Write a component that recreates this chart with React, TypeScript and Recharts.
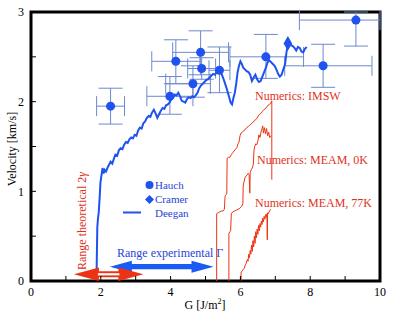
import React from 'react';
import { ComposedChart, Line, Scatter, XAxis, YAxis, ErrorBar, ReferenceArea, ReferenceLine } from 'recharts';

// Hauch measurements: G [J/m2], velocity [km/s], error bars [low, high]
const hauchG = [2.28, 3.98, 4.15, 4.64, 4.86, 4.89, 5.40, 6.73, 8.37, 9.31];
const hauchV = [1.95, 2.06, 2.45, 2.20, 2.55, 2.37, 2.35, 2.50, 2.40, 2.91];
const hauchGErr = [[0.4, 0.4], [0.66, 0.66], [0.69, 0.69], [0.78, 0.5], [0.8, 0.8], [0.4, 0.4], [0.3, 0.3], [1.03, 1.08], [1.1, 1.4], [1.62, 0.69]];
const hauchVErr = [[0.2, 0.2], [0.2, 0.22], [0.25, 0.24], [0.15, 0.2], [0.25, 0.24], [0.12, 0.12], [0.25, 0.26], [0.24, 0.25], [0.24, 0.24], [0.29, 0.09]];

const cramerG = [7.36];
const cramerV = [2.65];

const deeganG = [
  1.88, 1.89, 1.90, 1.92, 1.94, 1.97, 1.99, 2.02, 2.05, 2.08,
  2.11, 2.15, 2.20, 2.24, 2.28, 2.33, 2.38, 2.42, 2.47, 2.52,
  2.57, 2.62, 2.67, 2.72, 2.77, 2.82, 2.87, 2.92, 2.97, 3.02,
  3.07, 3.12, 3.17, 3.22, 3.27, 3.32, 3.37, 3.42, 3.47, 3.52,
  3.57, 3.62, 3.67, 3.72, 3.77, 3.82, 3.87, 3.92, 3.97, 4.02,
  4.07, 4.12, 4.17, 4.22, 4.27, 4.32, 4.37, 4.42, 4.47, 4.52,
  4.57, 4.62, 4.67, 4.72, 4.77, 4.82, 4.87, 4.92, 4.97, 5.02,
  5.07, 5.12, 5.17, 5.22, 5.27, 5.32, 5.37, 5.42, 5.47, 5.52,
  5.57, 5.62, 5.67, 5.72, 5.76, 5.80, 5.84, 5.88, 5.92, 5.96,
  6.00, 6.04, 6.08, 6.13, 6.18, 6.23, 6.28, 6.33, 6.38, 6.43,
  6.48, 6.53, 6.58, 6.63, 6.68, 6.73, 6.78, 6.83, 6.88, 6.93,
  6.98, 7.03, 7.08, 7.13, 7.18, 7.23, 7.28, 7.32, 7.36, 7.40,
  7.45, 7.50, 7.55, 7.60, 7.65, 7.70, 7.75, 7.80, 7.85, 7.90,
];
const deeganV = [
  0.12, 0.35, 0.60, 0.70, 0.76, 0.95, 1.10, 1.18, 1.26, 1.20,
  1.24, 1.22, 1.27, 1.30, 1.33, 1.31, 1.37, 1.41, 1.40, 1.46,
  1.48, 1.47, 1.52, 1.55, 1.54, 1.58, 1.60, 1.59, 1.63, 1.62,
  1.68, 1.71, 1.70, 1.76, 1.78, 1.82, 1.84, 1.83, 1.88, 1.91,
  1.87, 1.82, 1.86, 1.90, 1.93, 1.92, 1.96, 1.97, 1.99, 2.03,
  2.04, 2.08, 2.07, 2.10, 2.06, 2.01, 2.00, 1.99, 2.03, 2.05,
  2.04, 2.06, 2.05, 2.07, 2.10, 2.15, 2.18, 2.20, 2.22, 2.24,
  2.25, 2.27, 2.29, 2.31, 2.30, 2.33, 2.35, 2.33, 2.30, 2.25,
  2.19, 2.13, 2.06, 1.99, 1.97, 2.04, 2.10, 2.20, 2.33, 2.40,
  2.45, 2.42, 2.38, 2.36, 2.34, 2.33, 2.30, 2.23, 2.27, 2.30,
  2.25, 2.22, 2.23, 2.28, 2.33, 2.38, 2.44, 2.46, 2.44, 2.42,
  2.40, 2.36, 2.31, 2.28, 2.30, 2.36, 2.42, 2.55, 2.64, 2.65,
  2.63, 2.62, 2.60, 2.57, 2.61, 2.60, 2.56, 2.55, 2.59, 2.61,
];

const imswG = [5.32, 5.32, 5.36, 5.40, 5.45, 5.50, 5.54, 5.56, 5.58, 5.61, 5.62, 5.66, 5.70, 5.74, 5.78, 5.82, 5.86, 5.90, 5.93, 5.96, 5.99, 6.02, 6.06, 6.10, 6.14, 6.18, 6.22, 6.27, 6.31, 6.35, 6.39, 6.43, 6.47, 6.51, 6.55, 6.59, 6.63, 6.67, 6.71, 6.75, 6.79, 6.83, 6.87, 6.90, 6.90];
const imswV = [0, 0.75, 0.76, 0.77, 0.78, 0.78, 0.80, 0.94, 0.96, 0.97, 1.37, 1.38, 1.38, 1.41, 1.43, 1.45, 1.47, 1.49, 1.53, 1.55, 1.62, 1.65, 1.66, 1.68, 1.69, 1.71, 1.72, 1.74, 1.75, 1.77, 1.78, 1.80, 1.81, 1.84, 1.86, 1.87, 1.89, 1.91, 1.92, 1.94, 1.96, 1.97, 1.98, 2.01, 1.13];

const meam0G = [5.67, 5.67, 5.70, 5.72, 5.74, 5.78, 5.83, 5.88, 5.93, 5.98, 6.03, 6.07, 6.08, 6.10, 6.13, 6.16, 6.19, 6.22, 6.25, 6.27, 6.28, 6.31, 6.34, 6.37, 6.39, 6.41, 6.44, 6.47, 6.50, 6.53, 6.56, 6.59, 6.62, 6.64, 6.66, 6.69, 6.72, 6.75, 6.78, 6.81, 6.84, 6.87];
const meam0V = [0, 0.53, 0.55, 0.56, 0.75, 0.77, 0.78, 0.79, 0.80, 0.81, 0.83, 0.86, 1.06, 1.10, 1.15, 1.17, 1.18, 1.20, 1.19, 0.98, 1.21, 1.24, 1.26, 1.30, 1.46, 1.50, 1.53, 1.52, 1.56, 1.63, 1.60, 1.66, 1.70, 1.73, 1.65, 1.71, 1.64, 1.70, 1.62, 1.66, 1.60, 1.62];

const meam77G = [6.02, 6.02, 6.05, 6.08, 6.11, 6.14, 6.17, 6.20, 6.22, 6.24, 6.26, 6.28, 6.30, 6.32, 6.34, 6.36, 6.38, 6.40, 6.42, 6.44, 6.46, 6.48, 6.50, 6.52, 6.54, 6.56, 6.58, 6.60, 6.62, 6.64, 6.66, 6.68, 6.70, 6.72, 6.74, 6.76, 6.77, 6.78, 6.80, 6.82, 6.84, 6.86];
const meam77V = [0, 0.10, 0.11, 0.13, 0.14, 0.18, 0.20, 0.24, 0.22, 0.30, 0.26, 0.34, 0.30, 0.40, 0.33, 0.45, 0.38, 0.50, 0.42, 0.55, 0.48, 0.58, 0.52, 0.62, 0.56, 0.64, 0.60, 0.67, 0.63, 0.70, 0.66, 0.72, 0.69, 0.74, 0.71, 0.75, 0.46, 0.76, 0.75, 0.77, 0.78, 0.80];

// ranges shown as double arrows: [from, to] in G, at a velocity level
const rangeTheory = [1.23, 3.22];
const rangeTheoryV = 0.075;
const rangeExp = [2.26, 5.23];
const rangeExpV = 0.16;

const xTicks = [0, 1, 2, 3, 4, 5, 6, 7, 8, 9, 10];
const yTicks = [0, 0.5, 1, 1.5, 2, 2.5, 3];

const toPts = (g: number[], v: number[]) => g.map((x, i) => ({ x, y: v[i] }));
const hauch = hauchG.map((x, i) => ({ x, y: hauchV[i], ex: hauchGErr[i], ey: hauchVErr[i] }));
const cramer = toPts(cramerG, cramerV);
const deegan = toPts(deeganG, deeganV);
const imsw = toPts(imswG, imswV);
const meam0 = toPts(meam0G, meam0V);
const meam77 = toPts(meam77G, meam77V);

const FONT = '"Liberation Serif", "Times New Roman", serif';
const BLUE = '#1f52ee';
const RED = '#ee3314';
const ERR = '#6d88cf';

const doubleArrow = (color: string, headL: number, headH: number, shaftH: number, inner: number) => (p: any) => {
  const a = Math.min(p.x1, p.x2);
  const b = Math.max(p.x1, p.x2);
  const y = p.y1;
  const pts = [
    [a, y], [a + headL, y - headH], [a + headL, y - shaftH], [b - headL, y - shaftH], [b - headL, y - headH],
    [b, y], [b - headL, y + headH], [b - headL, y + shaftH], [a + headL, y + shaftH], [a + headL, y + headH],
  ].map((q) => q.join(',')).join(' ');
  return (
    <g>
      <polygon points={pts} fill={color} />
      {inner > 0 && <rect x={a + headL - 1} y={y - inner} width={b - a - 2 * headL + 2} height={inner * 2} fill="#fff" />}
    </g>
  );
};

const tickStyle = { fontSize: 12, fill: '#000', fontFamily: FONT };

export default function App() {
  return (
    <div style={{ position: 'absolute', left: 0, top: 0, width: 397, height: 322, background: '#fff' }}>
      <ComposedChart width={397} height={322} margin={{ top: 11, right: 16, bottom: 0, left: 0 }}>
        <XAxis type="number" dataKey="x" domain={[0, 10]} ticks={xTicks} interval={0} allowDataOverflow
          height={41} tickSize={-5} tickMargin={11} axisLine={false} tickLine={{ stroke: '#000' }}
          tick={tickStyle} tickFormatter={(v: number) => (v % 2 === 0 ? String(v) : '')} />
        <XAxis xAxisId="top" orientation="top" type="number" domain={[0, 10]} ticks={xTicks} interval={0} allowDataOverflow
          height={1} tickSize={-5} axisLine={false} tickLine={{ stroke: '#000' }} tick={false} />
        <YAxis type="number" dataKey="y" domain={[0, 3]} ticks={yTicks} interval={0} allowDataOverflow
          width={31} tickSize={-5} tickMargin={12} axisLine={false} tickLine={{ stroke: '#000' }}
          tick={tickStyle} tickFormatter={(v: number) => (Number.isInteger(v) ? String(v) : '')} />
        <YAxis yAxisId="right" orientation="right" type="number" domain={[0, 3]} ticks={yTicks} interval={0} allowDataOverflow
          width={1} tickSize={-5} axisLine={false} tickLine={{ stroke: '#000' }} tick={false} />

        <Line data={imsw} dataKey="y" stroke={RED} strokeWidth={1} dot={false} isAnimationActive={false} />
        <Line data={meam0} dataKey="y" stroke={RED} strokeWidth={1} dot={false} isAnimationActive={false} />
        <Line data={meam77} dataKey="y" stroke={RED} strokeWidth={1} dot={false} isAnimationActive={false} />

        <Scatter data={hauch} fill={BLUE} isAnimationActive={false}>
          <ErrorBar dataKey="ex" direction="x" width={10} stroke={ERR} strokeWidth={1} isAnimationActive={false} />
          <ErrorBar dataKey="ey" direction="y" width={12} stroke={ERR} strokeWidth={1} isAnimationActive={false} />
        </Scatter>
        <Line data={deegan} dataKey="y" stroke={BLUE} strokeWidth={2} dot={false} isAnimationActive={false} />
        <Scatter data={cramer} fill={BLUE} shape="diamond" isAnimationActive={false} />

        <ReferenceLine segment={[{ x: rangeExp[0], y: rangeExpV }, { x: rangeExp[1], y: rangeExpV }]}
          shape={doubleArrow('#1a5af5', 22, 6, 2.6, 0)} />
        <ReferenceLine segment={[{ x: rangeTheory[0], y: rangeTheoryV }, { x: rangeTheory[1], y: rangeTheoryV }]}
          shape={doubleArrow(RED, 25, 6.8, 3, 1.1)} />

        <ReferenceArea x1={0} x2={10} y1={0} y2={3} fill="none" stroke="#000" strokeWidth={3} />
      </ComposedChart>

      <svg width={397} height={322} style={{ position: 'absolute', left: 0, top: 0, pointerEvents: 'none' }}
        fontFamily={FONT} fontSize={12}>
        <text transform="translate(12,149) rotate(-90)" textAnchor="middle" dominantBaseline="central" fill="#000">Velocity [km/s]</text>
        <text x={205} y={305} textAnchor="middle" dominantBaseline="central" fill="#000">
          G [J/m<tspan dy={-4} fontSize={8}>2</tspan><tspan dy={4}>]</tspan>
        </text>

        <text x={255} y={96} dominantBaseline="central" fill="#dd3322">Numerics: IMSW</text>
        <text x={257} y={160} dominantBaseline="central" fill="#dd3322">Numerics: MEAM, 0K</text>
        <text x={255} y={203} dominantBaseline="central" fill="#dd3322">Numerics: MEAM, 77K</text>

        <text transform="translate(82,221) rotate(-90)" textAnchor="middle" dominantBaseline="central" fill="#dd3322">
          Range theoretical 2<tspan fontStyle="italic">γ</tspan>
        </text>
        <text x={117} y={253} dominantBaseline="central" fill="#1f44d8">Range experimental Γ</text>

        <g fontSize={11} fill="#1f44d8">
          <circle cx={149.5} cy={185} r={4} fill={BLUE} />
          <text x={155} y={185} dominantBaseline="central">Hauch</text>
          <polygon points="149.5,195 154,199.5 149.5,204 145,199.5" fill={BLUE} />
          <text x={155} y={199} dominantBaseline="central">Cramer</text>
          <line x1={123} x2={141} y1={212.5} y2={212.5} stroke={BLUE} strokeWidth={2} />
          <text x={155} y={212.5} dominantBaseline="central">Deegan</text>
        </g>
      </svg>
    </div>
  );
}
